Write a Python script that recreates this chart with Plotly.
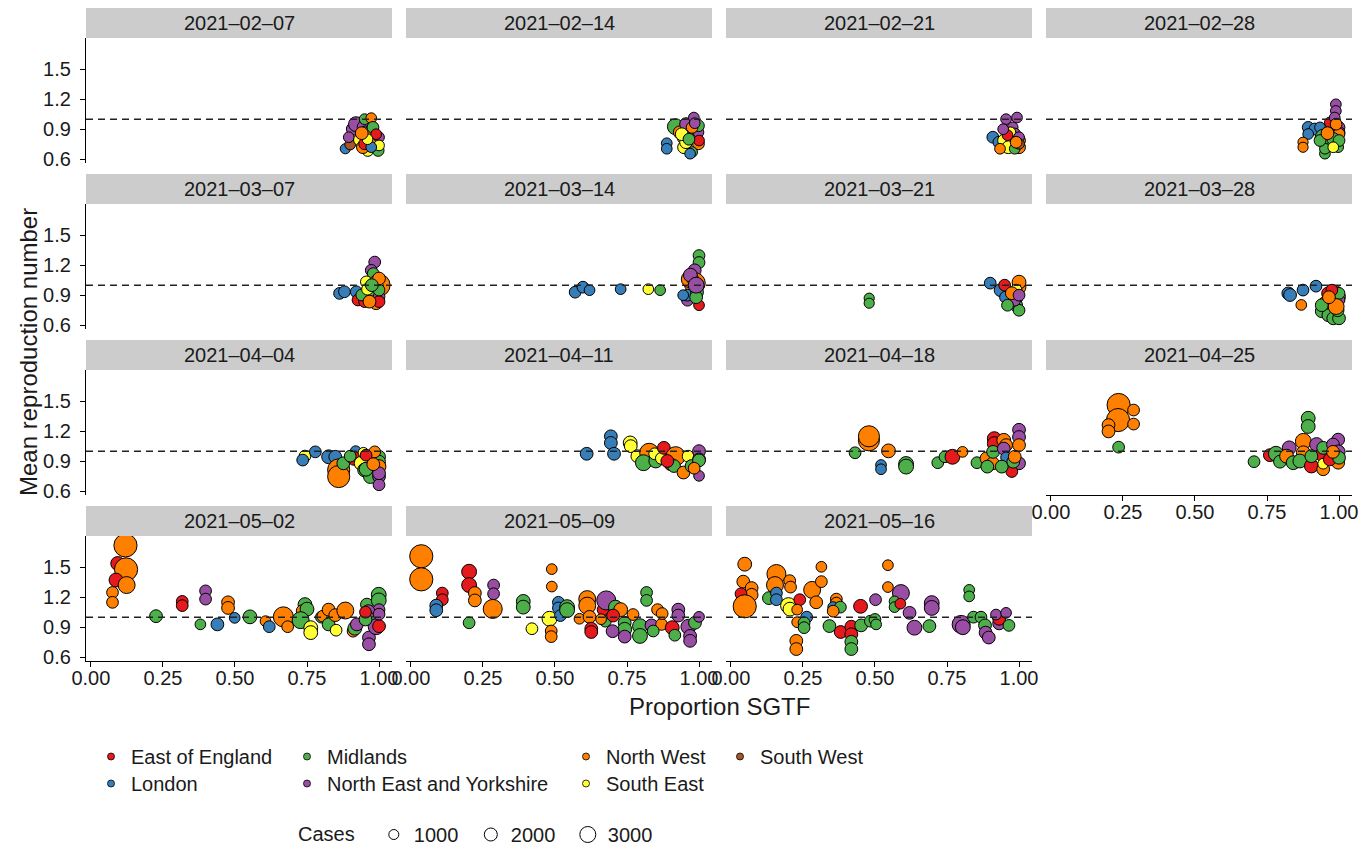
import plotly.graph_objects as go

W, H = 1364, 854

weeks = ["2021-02-07", "2021-02-14", "2021-02-21", "2021-02-28",
         "2021-03-07", "2021-03-14", "2021-03-21", "2021-03-28",
         "2021-04-04", "2021-04-11", "2021-04-18", "2021-04-25",
         "2021-05-02", "2021-05-09", "2021-05-16"]

region_names = {"EE": "East of England", "LO": "London", "MI": "Midlands",
                "NEY": "North East and Yorkshire", "NW": "North West",
                "SE": "South East", "SW": "South West"}
region_order = ["EE", "LO", "MI", "NEY", "NW", "SE", "SW"]
region_colors = {"EE": "#E41A1C", "LO": "#377EB8", "MI": "#4DAF4A", "NEY": "#984EA3",
                 "NW": "#FF7F00", "SE": "#FFFF33", "SW": "#A65628"}
size_breaks = [1000, 2000, 3000]

# ---- 2021-02-07
w01_sgtf = [0.883, 0.90, 0.909, 0.895, 0.92, 0.95, 0.95, 0.973, 0.953, 0.932, 0.961, 0.944, 0.985, 0.997, 0.979, 1.0, 1.0, 0.968, 0.95, 0.973, 0.979, 0.99, 0.96, 0.94]
w01_rt = [0.705, 0.747, 0.902, 0.82, 0.95, 0.918, 1.0, 1.01, 0.869, 0.793, 0.688, 0.721, 0.82, 0.688, 0.77, 0.82, 0.738, 0.869, 0.754, 0.721, 0.918, 0.85, 0.80, 0.86]
w01_region = ["LO", "SW", "NEY", "NEY", "NEY", "NEY", "MI", "NW", "NEY", "SE", "SE", "NW", "MI", "MI", "NW", "NEY", "SE", "NW", "EE", "LO", "MI", "EE", "SE", "NW"]
w01_cases = [900, 1000, 1400, 1000, 1800, 1800, 1000, 1000, 1400, 1200, 1200, 1400, 1400, 1200, 2000, 1000, 1000, 1200, 1200, 1000, 1200, 1000, 1000, 1400]

# ---- 2021-02-14
w02_sgtf = [0.888, 0.888, 0.918, 0.933, 0.955, 0.982, 0.948, 0.948, 0.955, 0.991, 0.998, 0.998, 0.998, 0.976, 0.969, 1.0, 0.976, 0.985, 0.94, 0.965]
w02_rt = [0.76, 0.705, 0.925, 0.869, 0.951, 1.016, 0.82, 0.72, 0.77, 0.82, 0.869, 0.934, 0.754, 0.672, 0.656, 0.787, 0.918, 0.96, 0.85, 0.8]
w02_region = ["LO", "LO", "MI", "NW", "NEY", "NEY", "SE", "SE", "SE", "NW", "NEY", "MI", "NW", "MI", "LO", "EE", "NW", "NEY", "SE", "MI"]
w02_cases = [1000, 1000, 2000, 1400, 1400, 1000, 1600, 1400, 1400, 1200, 1000, 1200, 1200, 1000, 1000, 1000, 1200, 1000, 1400, 1200]

# ---- 2021-02-21
w03_sgtf = [0.909, 0.93, 0.948, 0.963, 0.955, 0.993, 0.978, 0.985, 0.934, 0.97, 1.0, 1.0, 0.985, 1.0, 1.0, 0.99, 0.96, 0.945]
w03_rt = [0.82, 0.77, 0.787, 0.72, 1.0, 1.016, 0.918, 0.852, 0.705, 0.869, 0.787, 0.72, 0.705, 0.82, 0.754, 0.77, 0.84, 0.9]
w03_region = ["LO", "LO", "SE", "SE", "NEY", "NEY", "NEY", "NEY", "NW", "SE", "NW", "NW", "MI", "NEY", "SW", "NW", "EE", "NEY"]
w03_cases = [1200, 1200, 1400, 1400, 1000, 1000, 1000, 1200, 1000, 1000, 1400, 1400, 1000, 1000, 1000, 1200, 1000, 1000]

# ---- 2021-02-28
w04_sgtf = [0.989, 0.989, 0.893, 0.916, 0.893, 0.875, 0.875, 0.934, 0.945, 0.951, 0.951, 0.997, 0.974, 1.0, 1.0, 1.0, 0.98, 1.0, 0.968, 0.934, 0.98, 0.985, 0.96, 0.99]
w04_rt = [1.148, 1.082, 0.918, 0.902, 0.852, 0.77, 0.72, 0.918, 0.82, 0.656, 0.705, 0.721, 0.934, 0.918, 0.869, 0.852, 0.803, 0.787, 0.967, 0.787, 0.72, 1.016, 0.86, 0.95]
w04_region = ["NEY", "NEY", "LO", "LO", "LO", "NW", "NW", "LO", "MI", "MI", "MI", "MI", "SE", "NEY", "NEY", "NW", "MI", "MI", "EE", "MI", "SE", "NEY", "NW", "NW"]
w04_cases = [1000, 1000, 1200, 1200, 1000, 900, 900, 1000, 2000, 1000, 1000, 1000, 1000, 1200, 1200, 1200, 1400, 1200, 1000, 1200, 1000, 1000, 1400, 1200]

# ---- 2021-03-07
w05_sgtf = [0.863, 0.88, 0.921, 0.927, 0.95, 0.985, 0.973, 0.985, 0.98, 0.956, 1.0, 0.967, 0.99, 1.0, 1.0, 0.995, 0.94, 0.967, 1.0, 1.0, 0.96, 0.975]
w05_rt = [0.918, 0.934, 0.934, 0.852, 0.836, 1.23, 1.148, 1.082, 1.115, 1.033, 1.0, 0.934, 0.82, 0.885, 0.836, 0.984, 0.902, 0.836, 0.951, 1.066, 0.96, 1.0]
w05_region = ["LO", "LO", "LO", "EE", "EE", "NEY", "NEY", "NEY", "MI", "SE", "NW", "MI", "NW", "NEY", "EE", "SE", "MI", "NW", "MI", "NW", "SE", "MI"]
w05_cases = [1200, 1200, 1200, 1200, 1200, 1200, 1200, 1200, 1200, 1200, 3200, 1400, 1400, 1200, 1200, 1200, 1200, 1400, 1200, 1400, 1200, 1400]

# ---- 2021-03-14
w06_sgtf = [0.57, 0.597, 0.62, 0.728, 0.824, 0.865, 1.0, 1.0, 0.985, 0.985, 0.968, 0.96, 0.96, 0.993, 0.98, 1.0, 0.99, 0.945, 0.97, 0.99]
w06_rt = [0.93, 0.98, 0.95, 0.96, 0.96, 0.95, 1.295, 1.226, 1.148, 1.02, 1.06, 0.85, 0.9, 0.93, 1.05, 0.8, 0.88, 0.9, 1.1, 1.0]
w06_region = ["LO", "LO", "LO", "LO", "SE", "MI", "MI", "MI", "NEY", "NW", "NW", "NEY", "LO", "MI", "SE", "EE", "MI", "LO", "NEY", "NEY"]
w06_cases = [1200, 1200, 1000, 1000, 1000, 1000, 1200, 1200, 1400, 3000, 2200, 1200, 1200, 1400, 1200, 1000, 1400, 1000, 1600, 2000]

# ---- 2021-03-21
w07_sgtf = [0.48, 0.48, 0.9, 0.936, 0.953, 0.95, 1.0, 1.0, 0.99, 0.99, 1.0, 0.99, 0.985, 0.96, 0.975, 1.0]
w07_rt = [0.87, 0.82, 1.02, 0.95, 0.88, 1.0, 0.98, 1.03, 0.87, 0.8, 0.75, 0.95, 0.85, 0.8, 0.92, 0.9]
w07_region = ["MI", "MI", "LO", "LO", "LO", "EE", "NW", "NW", "MI", "MI", "MI", "SE", "NEY", "MI", "NW", "NEY"]
w07_cases = [900, 900, 1200, 1400, 1200, 1200, 1600, 1600, 1400, 1400, 1200, 1200, 1200, 1200, 1400, 1200]

# ---- 2021-03-28
w08_sgtf = [0.824, 0.83, 0.875, 0.869, 0.92, 0.962, 0.95, 0.975, 0.99, 0.94, 0.963, 0.98, 1.0, 0.995, 0.99, 1.0, 1.0, 1.0, 0.975, 0.99, 0.94, 0.965]
w08_rt = [0.918, 0.902, 0.951, 0.803, 0.99, 0.918, 0.82, 0.835, 0.85, 0.74, 0.7, 0.67, 0.67, 0.75, 0.934, 0.885, 0.852, 0.918, 0.95, 0.787, 0.8, 0.88]
w08_region = ["LO", "LO", "LO", "NW", "LO", "EE", "NW", "NW", "NW", "MI", "MI", "MI", "MI", "MI", "NW", "NW", "NEY", "MI", "EE", "NW", "MI", "NW"]
w08_cases = [1400, 1400, 1200, 1000, 1200, 1400, 1400, 1400, 1400, 1400, 1400, 1400, 1400, 1400, 1200, 1400, 1200, 1200, 1200, 2000, 1400, 1400]

# ---- 2021-04-04
w09_sgtf = [0.743, 0.735, 0.779, 0.825, 0.848, 0.919, 0.86, 0.86, 0.876, 0.914, 0.938, 0.95, 0.97, 0.955, 0.946, 1.0, 1.0, 1.0, 1.0, 1.0, 0.985, 0.955, 1.0, 0.9, 0.98]
w09_rt = [0.951, 0.911, 0.993, 0.944, 0.944, 1.0, 0.813, 0.747, 0.879, 0.928, 0.879, 0.813, 0.747, 0.82, 0.984, 0.944, 0.895, 0.846, 0.747, 0.665, 0.993, 0.96, 0.78, 0.95, 0.87]
w09_region = ["SE", "LO", "LO", "LO", "LO", "LO", "NW", "NW", "MI", "EE", "SE", "MI", "MI", "MI", "SE", "MI", "MI", "NW", "NEY", "NEY", "NW", "EE", "NEY", "MI", "NW"]
w09_cases = [1200, 1200, 1200, 1600, 1400, 1000, 3200, 3200, 1400, 1600, 1600, 1600, 1600, 1600, 1000, 1400, 1400, 1600, 1400, 1200, 1200, 1200, 1400, 1200, 1400]

# ---- 2021-04-11
w10_sgtf = [0.61, 0.694, 0.694, 0.705, 0.761, 0.763, 0.786, 0.827, 0.807, 0.85, 0.846, 0.869, 0.878, 0.919, 0.902, 0.913, 0.946, 0.962, 0.974, 1.0, 1.0, 1.0, 1.0, 0.983, 0.89]
w10_rt = [0.974, 1.148, 1.082, 0.974, 1.082, 1.05, 0.95, 0.984, 0.885, 0.902, 0.974, 0.928, 1.033, 0.95, 0.869, 0.852, 0.787, 0.95, 0.852, 1.0, 0.918, 0.754, 0.908, 0.83, 0.902]
w10_region = ["LO", "LO", "LO", "LO", "SE", "SE", "SE", "NW", "MI", "MI", "SE", "SE", "EE", "NW", "EE", "MI", "NW", "SE", "MI", "NEY", "NEY", "NEY", "MI", "NW", "EE"]
w10_cases = [1400, 1400, 1400, 1400, 1600, 1400, 1400, 2600, 2000, 1600, 1200, 1200, 1400, 2600, 1400, 1400, 1400, 1200, 1400, 1400, 1400, 1000, 1400, 1200, 1400]

# ---- 2021-04-18
w11_sgtf = [0.479, 0.479, 0.431, 0.547, 0.521, 0.521, 0.608, 0.608, 0.718, 0.743, 0.769, 0.804, 0.854, 0.887, 0.909, 0.914, 0.914, 0.947, 0.955, 0.91, 0.947, 0.955, 1.0, 1.0, 1.0, 1.0, 0.89, 0.975, 0.94, 0.98, 0.985]
w11_rt = [1.108, 1.148, 0.984, 1.003, 0.862, 0.82, 0.872, 0.846, 0.885, 0.944, 0.944, 0.993, 0.885, 0.928, 0.879, 1.125, 1.075, 1.108, 1.06, 0.993, 1.026, 0.938, 1.213, 1.141, 1.06, 0.879, 0.846, 0.797, 0.846, 0.895, 0.944]
w11_region = ["NW", "NW", "MI", "NW", "LO", "LO", "MI", "MI", "MI", "MI", "EE", "NW", "MI", "NW", "NW", "EE", "EE", "NW", "NW", "MI", "NEY", "LO", "NEY", "NEY", "NW", "NEY", "MI", "EE", "MI", "MI", "NW"]
w11_cases = [3000, 3000, 1200, 1600, 1000, 1000, 1800, 1800, 1200, 1200, 1800, 1000, 1200, 1400, 1400, 1600, 1600, 1600, 1400, 1400, 1400, 1000, 1400, 1400, 1400, 1400, 1400, 1200, 1400, 1400, 1400]

# ---- 2021-04-25
w12_sgtf = [0.235, 0.233, 0.287, 0.287, 0.2, 0.2, 0.235, 0.705, 0.893, 0.893, 0.76, 0.781, 0.795, 0.827, 0.818, 0.841, 0.876, 0.876, 0.864, 0.922, 0.904, 0.939, 0.945, 0.945, 0.945, 0.997, 0.979, 0.997, 0.997, 0.968, 1.0, 0.979, 0.904]
w12_rt = [1.46, 1.31, 1.41, 1.27, 1.26, 1.197, 1.04, 0.895, 1.328, 1.246, 0.96, 0.974, 0.895, 1.033, 0.95, 0.885, 1.098, 0.984, 0.902, 1.066, 0.852, 0.967, 1.033, 0.82, 0.875, 1.115, 1.066, 0.993, 0.885, 0.918, 0.934, 0.993, 0.95]
w12_region = ["NW", "NW", "NW", "NW", "NW", "NW", "MI", "MI", "MI", "MI", "EE", "MI", "MI", "NEY", "NW", "MI", "NW", "NW", "MI", "NEY", "EE", "EE", "MI", "NW", "SE", "NEY", "NEY", "NEY", "NW", "EE", "MI", "NW", "MI"]
w12_cases = [3400, 3400, 1200, 1200, 1400, 1400, 1200, 1200, 1600, 1600, 1400, 1800, 1400, 1600, 1600, 1600, 2000, 1600, 1600, 1600, 1600, 1400, 1400, 1400, 1000, 1400, 1400, 1600, 1400, 1400, 1400, 1400, 1400]

# ---- 2021-05-02
w13_sgtf = [0.12, 0.093, 0.122, 0.087, 0.124, 0.075, 0.075, 0.226, 0.317, 0.317, 0.398, 0.398, 0.38, 0.439, 0.476, 0.476, 0.499, 0.552, 0.606, 0.619, 0.668, 0.683, 0.743, 0.735, 0.75, 0.728, 0.763, 0.763, 0.80, 0.805, 0.825, 0.825, 0.848, 0.851, 0.883, 0.91, 0.916, 0.923, 0.958, 0.999, 0.999, 1.0, 0.963, 0.963, 0.986, 0.965, 0.965, 0.99, 1.0, 0.953, 1.0, 0.953]
w13_rt = [1.715, 1.535, 1.476, 1.37, 1.32, 1.246, 1.148, 1.01, 1.157, 1.115, 1.262, 1.18, 0.928, 0.928, 1.148, 1.092, 0.993, 1.003, 0.96, 0.905, 1.003, 0.905, 1.125, 1.06, 1.08, 0.97, 0.895, 0.846, 1.0, 1.01, 0.928, 1.075, 1.02, 0.87, 1.066, 0.86, 0.89, 0.928, 1.125, 1.223, 1.167, 1.075, 1.06, 0.993, 0.944, 0.797, 0.73, 0.905, 0.91, 0.977, 1.03, 1.05]
w13_region = ["NW", "EE", "NW", "EE", "NW", "NW", "NW", "MI", "EE", "EE", "NEY", "NEY", "MI", "LO", "NW", "NW", "LO", "MI", "NW", "LO", "NW", "NW", "MI", "NW", "MI", "MI", "SE", "SE", "MI", "NW", "MI", "NW", "NW", "SE", "NW", "NW", "MI", "NEY", "MI", "MI", "MI", "NEY", "NEY", "NEY", "MI", "NEY", "NEY", "NEY", "EE", "MI", "NEY", "EE"]
w13_cases = [3400, 1600, 3400, 1600, 2200, 1200, 1200, 1400, 1200, 1200, 1200, 1200, 1000, 1400, 1400, 1400, 1000, 1600, 1000, 1200, 2800, 1200, 1600, 1400, 1600, 2200, 1600, 1600, 1200, 1200, 1400, 1400, 1400, 1200, 2200, 1200, 1600, 1400, 1400, 1800, 1800, 1200, 1400, 1400, 1400, 1400, 1400, 2000, 1400, 1400, 1200, 1200]

# ---- 2021-05-09
w14_sgtf = [0.036, 0.036, 0.109, 0.109, 0.088, 0.088, 0.202, 0.202, 0.222, 0.222, 0.202, 0.287, 0.287, 0.284, 0.39, 0.39, 0.42, 0.489, 0.489, 0.481, 0.487, 0.487, 0.512, 0.512, 0.519, 0.542, 0.542, 0.585, 0.612, 0.612, 0.62, 0.626, 0.626, 0.667, 0.678, 0.675, 0.71, 0.728, 0.702, 0.742, 0.742, 0.742, 0.771, 0.795, 0.795, 0.818, 0.818, 0.835, 0.87, 0.856, 0.872, 0.841, 0.907, 0.916, 0.928, 0.928, 0.963, 0.969, 0.969, 0.986, 1.0, 0.70, 0.66]
w14_rt = [1.607, 1.377, 1.24, 1.174, 1.115, 1.069, 1.453, 1.32, 1.24, 1.167, 0.944, 1.32, 1.233, 1.082, 1.157, 1.10, 0.885, 1.479, 1.305, 0.984, 0.862, 0.806, 1.148, 1.092, 1.016, 1.10, 1.07, 0.984, 1.18, 1.115, 1.003, 0.885, 0.852, 1.075, 1.167, 0.96, 1.10, 1.075, 1.016, 0.944, 0.879, 0.806, 1.026, 0.91, 0.813, 1.246, 1.167, 0.918, 0.928, 1.075, 1.036, 0.862, 0.895, 0.82, 1.075, 1.016, 0.905, 0.813, 0.764, 0.944, 1.003, 0.86, 0.98]
w14_region = ["NW", "NW", "EE", "EE", "LO", "LO", "EE", "EE", "NW", "NW", "MI", "NEY", "NEY", "NW", "MI", "MI", "SE", "NW", "NW", "SE", "NW", "NW", "LO", "LO", "LO", "MI", "MI", "NW", "NW", "NW", "NW", "EE", "EE", "EE", "NEY", "MI", "MI", "NW", "EE", "MI", "MI", "NEY", "NW", "MI", "MI", "MI", "MI", "NEY", "NW", "NW", "NW", "MI", "EE", "MI", "NEY", "NEY", "NEY", "NEY", "NEY", "MI", "NEY", "NEY", "NW"]
w14_cases = [3400, 3400, 1200, 1200, 1400, 1400, 1800, 1800, 1400, 1400, 1200, 1200, 1200, 2600, 1600, 1600, 1200, 1000, 1000, 1800, 1200, 1200, 1200, 1200, 1200, 1800, 1800, 1000, 2200, 2200, 1400, 1400, 1400, 1200, 2600, 1200, 1600, 1600, 1400, 1400, 1600, 1400, 1200, 1800, 1800, 1200, 1200, 1400, 1200, 1200, 1200, 1200, 1600, 1200, 1400, 1400, 1800, 1400, 1400, 1400, 1000, 1400, 1000]

# ---- 2021-05-16
w15_sgtf = [0.048, 0.043, 0.072, 0.072, 0.035, 0.035, 0.048, 0.158, 0.153, 0.132, 0.158, 0.158, 0.204, 0.207, 0.2, 0.205, 0.239, 0.23, 0.23, 0.263, 0.254, 0.254, 0.227, 0.227, 0.282, 0.296, 0.314, 0.314, 0.366, 0.366, 0.355, 0.38, 0.355, 0.342, 0.381, 0.418, 0.418, 0.418, 0.418, 0.45, 0.452, 0.484, 0.5, 0.504, 0.502, 0.545, 0.545, 0.59, 0.568, 0.568, 0.588, 0.62, 0.637, 0.689, 0.697, 0.697, 0.827, 0.827, 0.799, 0.805, 0.842, 0.868, 0.882, 0.884, 0.895, 0.931, 0.931, 0.92, 0.955, 0.965]
w15_rt = [1.528, 1.354, 1.29, 1.223, 1.233, 1.148, 1.108, 1.43, 1.32, 1.19, 1.24, 1.174, 1.364, 1.30, 1.115, 1.08, 1.174, 1.075, 0.95, 1.0, 0.944, 0.895, 0.764, 0.682, 1.272, 1.148, 1.354, 1.502, 1.18, 1.14, 1.10, 1.10, 1.06, 0.911, 0.852, 0.905, 0.83, 0.754, 0.682, 1.108, 0.918, 0.96, 0.977, 0.928, 1.174, 1.518, 1.30, 1.24, 1.157, 1.10, 1.134, 1.043, 0.895, 0.911, 1.14, 1.092, 1.272, 1.207, 0.928, 0.90, 1.0, 1.0, 0.918, 0.846, 0.797, 0.938, 0.984, 1.026, 1.043, 0.918]
w15_region = ["NW", "NW", "NW", "NW", "EE", "EE", "NW", "NW", "NW", "MI", "LO", "LO", "NW", "NW", "SE", "SE", "EE", "NW", "NW", "LO", "MI", "MI", "NW", "NW", "NW", "NW", "NW", "NW", "NW", "NW", "LO", "MI", "NW", "MI", "EE", "EE", "EE", "MI", "MI", "EE", "MI", "MI", "MI", "MI", "NEY", "NW", "NW", "NEY", "MI", "MI", "EE", "NEY", "NEY", "MI", "NEY", "NEY", "MI", "MI", "NEY", "NEY", "MI", "MI", "MI", "NEY", "NEY", "NEY", "EE", "NEY", "NEY", "MI"]
w15_cases = [1600, 1400, 1400, 1400, 1200, 1200, 3400, 2600, 2200, 1400, 1200, 1200, 1200, 1200, 2000, 1600, 1200, 1000, 1000, 1200, 1200, 1200, 1400, 1400, 2200, 1400, 1200, 1000, 1200, 1200, 1000, 1200, 1200, 1400, 1400, 1400, 1400, 1400, 1400, 1600, 1400, 1200, 1200, 1000, 1200, 1000, 1000, 2200, 1000, 1000, 1000, 1400, 1800, 1400, 1800, 1800, 1000, 1000, 2400, 1800, 1200, 1200, 1400, 1400, 1400, 1400, 1400, 1000, 1000, 1200]

panels = [
    (w01_sgtf, w01_rt, w01_region, w01_cases),
    (w02_sgtf, w02_rt, w02_region, w02_cases),
    (w03_sgtf, w03_rt, w03_region, w03_cases),
    (w04_sgtf, w04_rt, w04_region, w04_cases),
    (w05_sgtf, w05_rt, w05_region, w05_cases),
    (w06_sgtf, w06_rt, w06_region, w06_cases),
    (w07_sgtf, w07_rt, w07_region, w07_cases),
    (w08_sgtf, w08_rt, w08_region, w08_cases),
    (w09_sgtf, w09_rt, w09_region, w09_cases),
    (w10_sgtf, w10_rt, w10_region, w10_cases),
    (w11_sgtf, w11_rt, w11_region, w11_cases),
    (w12_sgtf, w12_rt, w12_region, w12_cases),
    (w13_sgtf, w13_rt, w13_region, w13_cases),
    (w14_sgtf, w14_rt, w14_region, w14_cases),
    (w15_sgtf, w15_rt, w15_region, w15_cases),
]

x_ticks = [0.0, 0.25, 0.5, 0.75, 1.0]
y_ticks = [0.6, 0.9, 1.2, 1.5]

# ---------------- layout geometry (pixels) ----------------
FONT = "Liberation Sans, Arial, Helvetica, sans-serif"
TXT = "#1a1a1a"
col_left = [86, 406, 726, 1046]
panel_w = 306
strip_top = [8, 174, 340, 506]
strip_h = 30
panel_h = 125
X_RANGE = [-0.017, 1.045]
Y_RANGE = [0.563, 1.809]


def diam(c):
    return 5.5 + c * 0.0052


fig = go.Figure()
shapes = []
annotations = []
layout_axes = {}

for k, (sx, ry, reg, cs) in enumerate(panels):
    r, c = divmod(k, 4)
    n = k + 1
    xa = "x" if n == 1 else f"x{n}"
    ya = "y" if n == 1 else f"y{n}"
    left = col_left[c]
    top = strip_top[r] + strip_h
    bottom = top + panel_h
    bottom_panel = (r == 3) or (r == 2 and c == 3)

    fig.add_trace(go.Scatter(
        x=sx, y=ry, mode="markers", xaxis=xa, yaxis=ya, showlegend=False,
        marker=dict(color=[region_colors[g] for g in reg],
                    size=[diam(v) for v in cs],
                    line=dict(color="black", width=1), opacity=1),
        hoverinfo="skip"))

    layout_axes[f"xaxis{'' if n == 1 else n}"] = dict(
        domain=[left / W, (left + panel_w) / W], range=X_RANGE, anchor=ya,
        automargin=False, showgrid=False, zeroline=False,
        showline=bottom_panel, linecolor="black", linewidth=1.2,
        ticks="outside" if bottom_panel else "", ticklen=5, tickwidth=1.2, tickcolor="black",
        showticklabels=bottom_panel, tickvals=x_ticks, tickformat=".2f",
        tickfont=dict(family=FONT, size=20, color=TXT), ticklabelstandoff=-6)
    layout_axes[f"yaxis{'' if n == 1 else n}"] = dict(
        domain=[1 - bottom / H, 1 - top / H], range=Y_RANGE, anchor=xa,
        automargin=False, showgrid=False, zeroline=False,
        showline=(c == 0), linecolor="black", linewidth=1.2,
        ticks="outside" if c == 0 else "", ticklen=5, tickwidth=1.2, tickcolor="black",
        showticklabels=(c == 0), tickvals=y_ticks, tickformat=".1f",
        tickfont=dict(family=FONT, size=20, color=TXT), ticklabelstandoff=5)

    # strip
    shapes.append(dict(type="rect", xref="paper", yref="paper",
                       x0=left / W, x1=(left + panel_w) / W,
                       y0=1 - (strip_top[r] + strip_h) / H, y1=1 - strip_top[r] / H,
                       fillcolor="#CCCCCC", line=dict(width=0), layer="below"))
    annotations.append(dict(text=weeks[k].replace("-", "\u2013"), xref="paper", yref="paper",
                            x=(left + panel_w / 2) / W, y=1 - (strip_top[r] + strip_h / 2) / H,
                            xanchor="center", yanchor="middle", showarrow=False,
                            font=dict(family=FONT, size=20, color=TXT)))
    # reference line R = 1
    shapes.append(dict(type="line", xref=f"{xa} domain", yref=ya, x0=0, x1=1, y0=1.0, y1=1.0,
                       line=dict(color="#222222", width=1.5, dash="7px,5px"), layer="above"))

# axis titles
annotations.append(dict(text="Proportion SGTF", xref="paper", yref="paper",
                        x=(86 + 1352) / 2 / W, y=1 - 706 / H, xanchor="center", yanchor="middle",
                        showarrow=False, font=dict(family=FONT, size=24, color=TXT)))
annotations.append(dict(text="Mean reproduction number", xref="paper", yref="paper",
                        x=28 / W, y=1 - 352 / H, xanchor="center", yanchor="middle", textangle=-90,
                        showarrow=False, font=dict(family=FONT, size=24, color=TXT)))

# legend-only key traces: regions (each in its own legend box so columns align)
legend_pos = {"EE": (109, 757), "LO": (109, 784), "MI": (305, 757), "NEY": (305, 784),
              "NW": (584, 757), "SE": (584, 784), "SW": (738, 757)}
legend_layouts = {}
for i, code in enumerate(region_order):
    lname = "legend" if i == 0 else f"legend{i + 1}"
    fig.add_trace(go.Scatter(x=[None], y=[None], mode="markers", name=region_names[code],
                             legend=lname, showlegend=True,
                             marker=dict(color=region_colors[code], size=7,
                                         line=dict(color="black", width=0.8))))
    dx, dy = legend_pos[code]
    legend_layouts[lname] = dict(x=(dx - 18) / W, y=1 - (dy - 20) / H, xanchor="left", yanchor="top",
                                 bgcolor="rgba(0,0,0,0)", borderwidth=0,
                                 font=dict(family=FONT, size=20, color=TXT))

# size legend
size_keys = {1000: 10, 2000: 13, 3000: 16}
for b in size_breaks:
    fig.add_trace(go.Scatter(x=[None], y=[None], mode="markers", name=str(b),
                             legend="legend8", showlegend=True,
                             marker=dict(color="white", size=size_keys[b],
                                         line=dict(color="black", width=1))))
legend_layouts["legend8"] = dict(x=296 / W, y=1 - 815 / H, xanchor="left", yanchor="top",
                                 orientation="h", entrywidth=52, bgcolor="rgba(0,0,0,0)", borderwidth=0,
                                 title=dict(text="Cases&nbsp;&nbsp;", side="left",
                                            font=dict(family=FONT, size=20, color=TXT)),
                                 font=dict(family=FONT, size=20, color=TXT))

fig.update_layout(
    width=W, height=H, margin=dict(l=0, r=0, t=0, b=0, autoexpand=False),
    paper_bgcolor="white", plot_bgcolor="white",
    shapes=shapes, annotations=annotations, **layout_axes, **legend_layouts)

fig.write_html("out.html")
